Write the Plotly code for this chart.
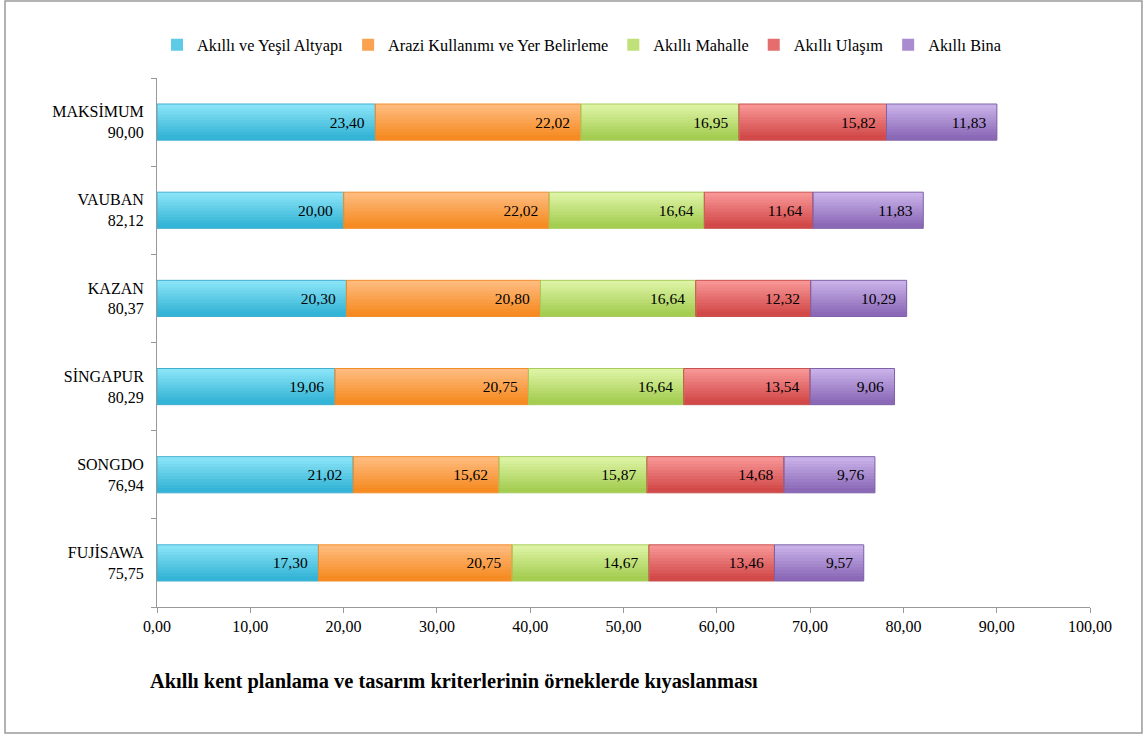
import plotly.graph_objects as go

cities = ["FUJİSAWA", "SONGDO", "SİNGAPUR", "KAZAN", "VAUBAN", "MAKSİMUM"]
totals = ["75,75", "76,94", "80,29", "80,37", "82,12", "90,00"]
series_names = ["Akıllı ve Yeşil Altyapı", "Arazi Kullanımı ve Yer Belirleme",
                "Akıllı Mahalle", "Akıllı Ulaşım", "Akıllı Bina"]
altyapi = [17.30, 21.02, 19.06, 20.30, 20.00, 23.40]
arazi = [20.75, 15.62, 20.75, 20.80, 22.02, 22.02]
mahalle = [14.67, 15.87, 16.64, 16.64, 16.64, 16.95]
ulasim = [13.46, 14.68, 13.54, 12.32, 11.64, 15.82]
bina = [9.57, 9.76, 9.06, 10.29, 11.83, 11.83]
x_ticks = [0, 10, 20, 30, 40, 50, 60, 70, 80, 90, 100]
title_text = "Akıllı kent planlama ve tasarım kriterlerinin örneklerde kıyaslanması"

# gradient (top colour, bottom colour) and edge colour per series
tops = ["#93E9FB", "#FFC088", "#E4F8AE", "#FC9E9E", "#D0BAEE"]
bottoms = ["#30B2D4", "#F5891E", "#A2CB4E", "#D04545", "#8865B5"]
edges = ["#3FAFD0", "#F28C2A", "#A6CC5A", "#C8504D", "#7E62A8"]

labels = [f"{c}<br>{t}" for c, t in zip(cities, totals)]
FONT = "Times New Roman, Liberation Serif, serif"
BAR_W = 0.41
K = 12
H = BAR_W / K


def hex2rgb(h):
    h = h.lstrip("#")
    return [int(h[i:i + 2], 16) for i in (0, 2, 4)]


def mix(a, b, t):
    ca, cb = hex2rgb(a), hex2rgb(b)
    c = [round(ca[j] + (cb[j] - ca[j]) * t) for j in range(3)]
    return f"rgb({c[0]},{c[1]},{c[2]})"


all_vals = [altyapi, arazi, mahalle, ulasim, bina]
fig = go.Figure()
bases = [0.0] * len(cities)
main_traces = []
for s, (name, vals) in enumerate(zip(series_names, all_vals)):
    base = list(bases)
    for i in range(K):
        t = (i + 0.5) / K
        extra = 0.0 if i == 0 else H * 0.6
        fig.add_trace(go.Bar(
            y=labels, x=vals, base=base, orientation="h",
            width=H + extra, offset=BAR_W / 2 - (i + 1) * H,
            marker=dict(color=mix(tops[s], bottoms[s], t), line=dict(width=0)),
            name=name, showlegend=(i == K // 2), legendgroup=name,
            hoverinfo="skip",
        ))
    main_traces.append(go.Bar(
        y=labels, x=vals, base=base, orientation="h",
        width=BAR_W, offset=-BAR_W / 2,
        marker=dict(color="rgba(0,0,0,0)", line=dict(color=edges[s], width=1)),
        texttemplate="%{x:.2f}\u00a0\u00a0", textposition="inside", insidetextanchor="end",
        textfont=dict(family=FONT, size=15.5, color="black"),
        constraintext="none", showlegend=False, legendgroup=name, name=name,
    ))
    bases = [b + v for b, v in zip(bases, vals)]
for tr in main_traces:
    fig.add_trace(tr)

fig.update_layout(
    width=1148, height=736,
    barmode="overlay",
    separators=",.",
    paper_bgcolor="white", plot_bgcolor="white",
    margin=dict(l=157, r=58, t=78, b=129),
    font=dict(family=FONT, size=16, color="black"),
    legend=dict(orientation="h", x=0.0, xanchor="left", y=1.062, yanchor="middle",
                font=dict(family=FONT, size=16.3), traceorder="normal",
                itemwidth=30, tracegroupgap=0),
    xaxis=dict(range=[0, 100], tickvals=x_ticks, tickformat=".2f",
               showgrid=False, zeroline=False, showline=True, linecolor="#999999",
               ticks="outside", ticklen=5, tickcolor="#999999",
               tickfont=dict(family=FONT, size=16)),
    yaxis=dict(showgrid=False, showline=True, linecolor="#999999",
               ticks="outside", ticklen=5, tickcolor="#999999", tickson="boundaries",
               tickfont=dict(family=FONT, size=16), ticklabelstandoff=9),
    annotations=[dict(text=f"<b>{title_text}</b>", xref="paper", yref="paper",
                      x=-0.0096, y=-0.14, xanchor="left", yanchor="middle",
                      showarrow=False, font=dict(family=FONT, size=20.4))],
    shapes=[dict(type="rect", xref="paper", yref="paper",
                 x0=-0.1629, x1=1.0557, y0=-0.2382, y1=1.1456,
                 line=dict(color="#9A9A9A", width=1.5))],
)

fig.write_html("out.html", config={"displayModeBar": False},
               post_script="document.body.style.margin='0';document.body.style.overflow='hidden';")
